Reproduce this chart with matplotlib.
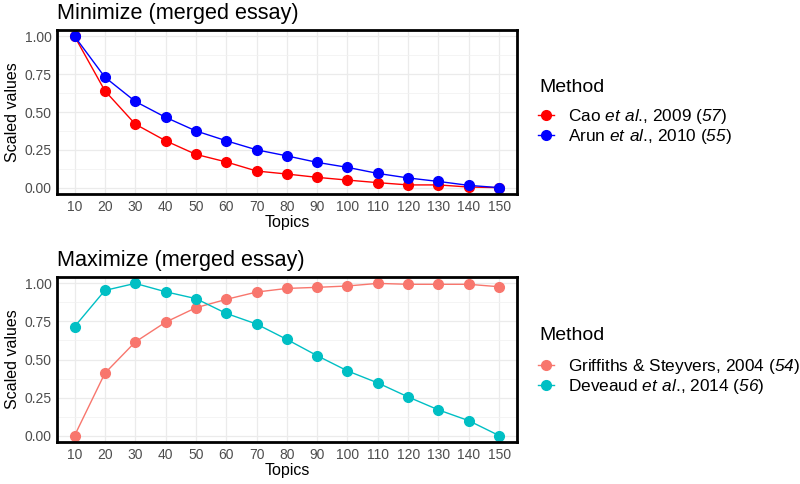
import numpy as np
import matplotlib
matplotlib.use("Agg")
import matplotlib.pyplot as plt
from matplotlib.ticker import MultipleLocator

plt.rcParams['font.family'] = ['Liberation Sans', 'DejaVu Sans']
plt.rcParams['mathtext.fontset'] = 'custom'
plt.rcParams['mathtext.rm'] = 'Liberation Sans'
# use the bf slot for italics so digits get slanted too
plt.rcParams['mathtext.bf'] = 'Liberation Sans:italic'

topics = [10, 20, 30, 40, 50, 60, 70, 80, 90, 100, 110, 120, 130, 140, 150]

# minimize panel
cao = [1.00, 0.64, 0.42, 0.31, 0.22, 0.17, 0.11, 0.09, 0.068, 0.05, 0.033, 0.018, 0.018, 0.004, 0.0]
arun = [1.00, 0.73, 0.57, 0.465, 0.375, 0.31, 0.25, 0.21, 0.167, 0.134, 0.094, 0.064, 0.041, 0.015, 0.0]

# maximize panel
griffiths = [0.0, 0.41, 0.615, 0.745, 0.84, 0.895, 0.943, 0.967, 0.974, 0.983, 1.0, 0.994, 0.994, 0.994, 0.978]
deveaud = [0.716, 0.954, 1.0, 0.945, 0.90, 0.803, 0.733, 0.632, 0.525, 0.425, 0.346, 0.254, 0.169, 0.098, 0.0]

top_labels = [r"Cao $\mathbf{et\ al}$., 2009 ($\mathbf{57}$)", r"Arun $\mathbf{et\ al}$., 2010 ($\mathbf{55}$)"]
bot_labels = [r"Griffiths & Steyvers, 2004 ($\mathbf{54}$)", r"Deveaud $\mathbf{et\ al}$., 2014 ($\mathbf{56}$)"]

fig = plt.figure(figsize=(8, 4.84), dpi=100)
W, H = 800, 484
ax1 = fig.add_axes([57 / W, 1 - 194 / H, 460 / W, 164 / H])
ax2 = fig.add_axes([57 / W, 1 - 442 / H, 460 / W, 165 / H])


def style(ax, title):
    ax.set_xlim(4.2, 155.9)
    ax.set_ylim(-0.042, 1.042)
    ax.set_xticks(topics)
    ax.yaxis.set_minor_locator(MultipleLocator(0.125))
    ax.set_yticks([0, 0.25, 0.5, 0.75, 1.0])
    ax.set_yticklabels(['0.00', '0.25', '0.50', '0.75', '1.00'])
    ax.grid(True, which='major', color='#EBEBEB', linewidth=0.9)
    ax.grid(True, which='minor', axis='y', color='#F2F2F2', linewidth=0.6)
    ax.set_axisbelow(True)
    ax.tick_params(which='both', length=0, labelsize=10, labelcolor='#4D4D4D', pad=4)
    for s in ax.spines.values():
        s.set_linewidth(2)
        s.set_color('black')
    ax.set_xlabel('Topics', fontsize=11.5, labelpad=1)
    ax.set_ylabel('Scaled values', fontsize=11.5, labelpad=3)
    ax.set_title(title, fontsize=15.6, loc='left', pad=8)


ax1.plot(topics, cao, '-o', color='#FF0000', lw=1, ms=7, label=top_labels[0])
ax1.plot(topics, arun, '-o', color='#0000FF', lw=1, ms=7, label=top_labels[1])
style(ax1, 'Minimize (merged essay)')

ax2.plot(topics, griffiths, '-o', color='#F8766D', lw=1, ms=7, label=bot_labels[0])
ax2.plot(topics, deveaud, '-o', color='#00BFC4', lw=1, ms=7, label=bot_labels[1])
style(ax2, 'Maximize (merged essay)')

# legend title placed on its own so the gap to the entries matches
for ax, ty, ly in [(ax1, 87, 107), (ax2, 335, 357)]:
    fig.text(539 / W, 1 - ty / H, 'Method', fontsize=14, ha='left', va='center')
    ax.legend(loc='upper left', bbox_to_anchor=(538 / W, 1 - ly / H), bbox_transform=fig.transFigure,
              frameon=False, fontsize=12.4, handlelength=0.95, handletextpad=0.8,
              labelspacing=0.08, borderaxespad=0, borderpad=0)

fig.savefig('out.png', dpi=100)
